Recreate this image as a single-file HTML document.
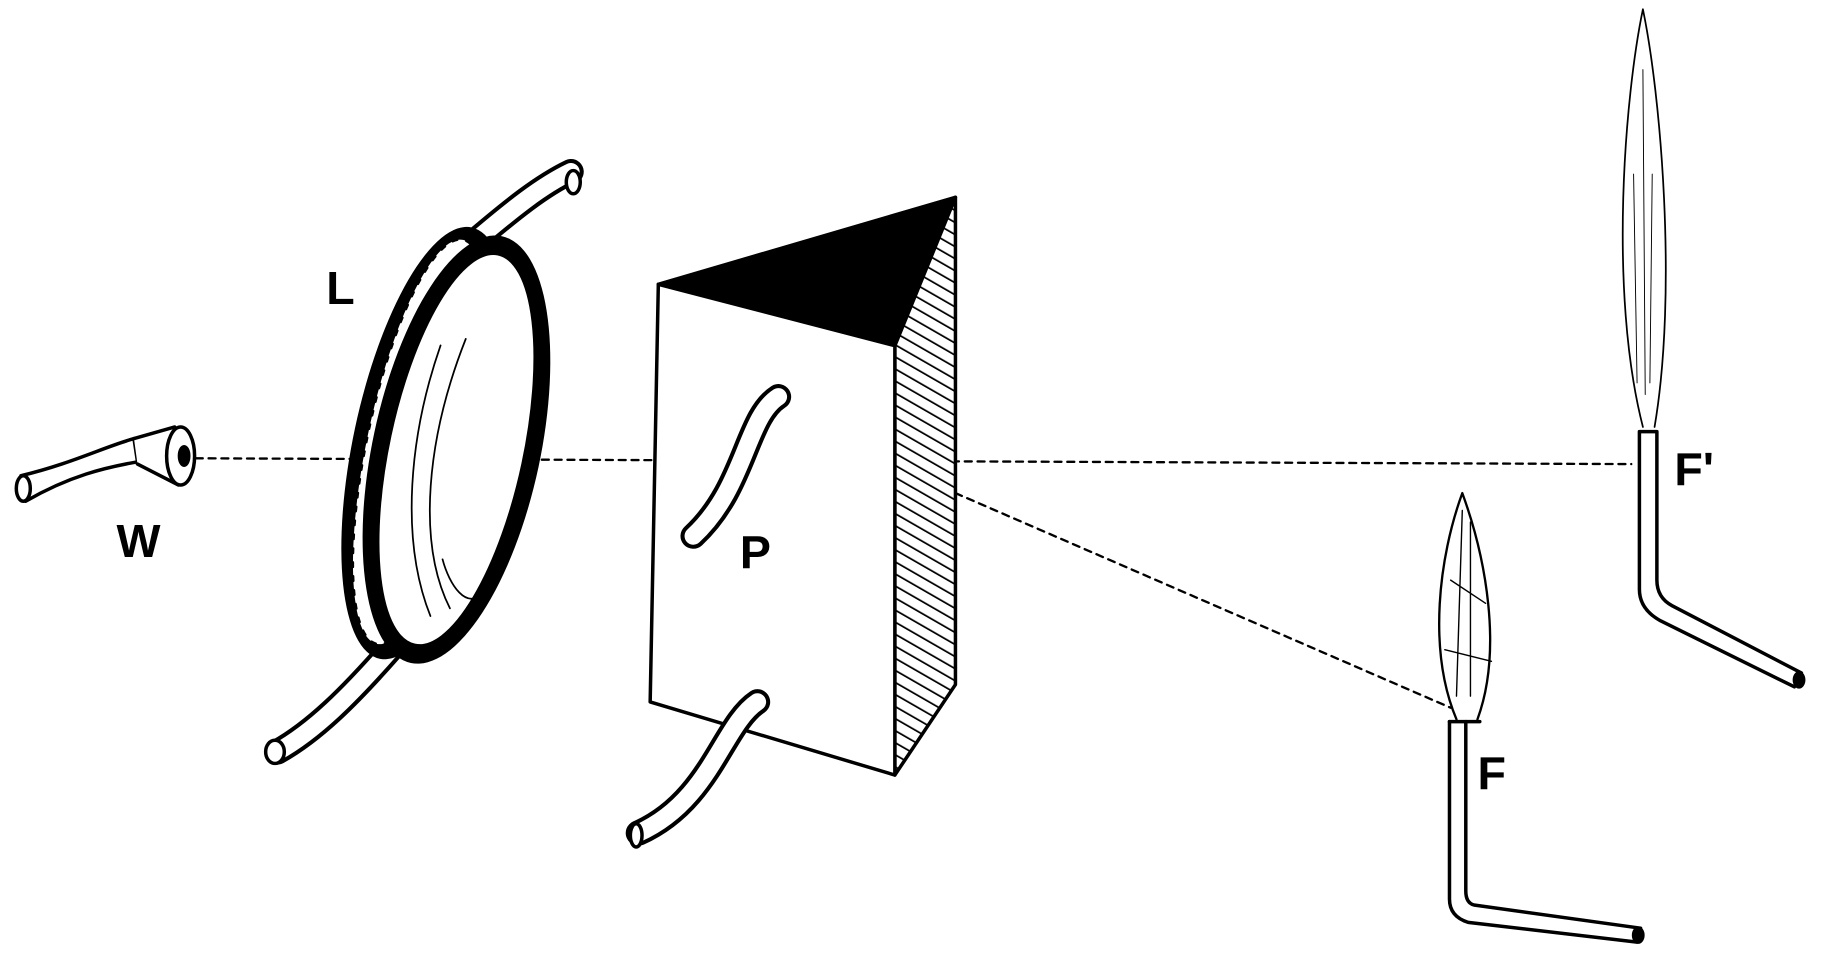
<!DOCTYPE html>
<html><head><meta charset="utf-8"><style>
html,body{margin:0;padding:0;background:#fff;}
svg{display:block}
text{font-family:"Liberation Sans",sans-serif;font-weight:bold;fill:#000}
</style></head><body>
<svg width="1827" height="963" viewBox="0 0 1568 830" preserveAspectRatio="none">
<defs>
<pattern id="hatch" patternUnits="userSpaceOnUse" width="9" height="9" patternTransform="rotate(-60)">
<rect width="9" height="9" fill="#fff"/><line x1="0" y1="0" x2="0" y2="9" stroke="#000" stroke-width="3"/></pattern>
</defs>
<g fill="none" stroke="#000" stroke-linecap="round" stroke-linejoin="round">
<!-- dashed rays -->
<line x1="168" y1="395" x2="1400" y2="400" stroke-width="2" stroke-dasharray="6 5"/>
<line x1="820" y1="425" x2="1245" y2="610" stroke-width="2" stroke-dasharray="6 5"/>
<!-- W pipe -->
<path d="M18,410 C60,400 90,385 115,378 L118,398 C90,403 60,410 22,432 Z" fill="#fff" stroke-width="3"/>
<ellipse cx="20" cy="421" rx="6" ry="11" fill="#fff" stroke-width="3"/>
<path d="M115,378 L150,368 L153,418 L118,400" fill="#fff" stroke-width="3"/>
<ellipse cx="155" cy="393" rx="12" ry="25" fill="#fff" stroke-width="3"/>
<ellipse cx="158" cy="393" rx="5" ry="9" fill="#000"/>
<!-- lens tubes -->
<path d="M405,210 C440,180 465,160 490,148" stroke="#000" stroke-width="22"/>
<path d="M405,210 C440,180 465,160 490,148" stroke="#fff" stroke-width="15"/>
<ellipse cx="492" cy="157" rx="6" ry="10" fill="#fff" stroke-width="3"/>
<path d="M335,560 C300,600 270,630 238,648" stroke="#000" stroke-width="22"/>
<path d="M335,560 C300,600 270,630 238,648" stroke="#fff" stroke-width="15"/>
<ellipse cx="236" cy="648" rx="8" ry="10" fill="#fff" stroke-width="3"/>
<!-- lens -->
<g transform="rotate(12 380 385)">
<ellipse cx="365" cy="385" rx="62" ry="190" fill="#000" stroke="none"/>
<ellipse cx="360" cy="385" rx="45" ry="178" fill="#fff" stroke-width="2" stroke-dasharray="4 8"/>
<ellipse cx="392" cy="385" rx="72" ry="188" fill="#000" stroke="none"/>
<ellipse cx="392" cy="385" rx="58" ry="172" fill="#fff" stroke-width="2"/>
<path d="M360,300 C350,380 360,470 400,530 M380,290 C365,380 375,470 415,520 M400,480 C410,500 430,520 440,500" stroke-width="1.5"/>
</g>
<!-- prism -->
<polygon points="565,245 820,170 768,298" fill="#000" stroke-width="3"/>
<polygon points="768,298 820,170 820,590 768,668" fill="url(#hatch)" stroke-width="3"/>
<polygon points="565,245 768,298 768,668 558,605" fill="#fff" stroke-width="3"/>
<!-- prism tubes -->
<path d="M668,342 C640,360 640,420 595,462" stroke="#000" stroke-width="22"/>
<path d="M668,342 C640,360 640,420 595,462" stroke="#fff" stroke-width="15"/>
<path d="M650,605 C620,625 610,690 548,718" stroke="#000" stroke-width="22"/>
<path d="M650,605 C620,625 610,690 548,718" stroke="#fff" stroke-width="15"/>
<ellipse cx="546" cy="720" rx="5" ry="10" fill="#fff" stroke-width="3"/>
<!-- burner F -->
<path d="M1244,622 L1244,775 Q1244,790 1260,795 L1405,812 L1408,800 L1265,780 Q1258,778 1258,768 L1258,622" fill="#fff" stroke-width="3"/>
<ellipse cx="1406" cy="806" rx="5" ry="7" fill="#000"/>
<line x1="1244" y1="622" x2="1270" y2="622" stroke-width="3"/>
<path d="M1250,620 C1225,560 1235,480 1255,425 C1275,480 1290,560 1268,620" fill="#fff" stroke-width="2"/>
<path d="M1255,440 L1250,600 M1262,450 L1262,600 M1245,500 L1275,520 M1240,560 L1280,570" stroke-width="1.2"/>
<!-- burner F' -->
<path d="M1407,372 L1407,508 Q1407,525 1425,535 L1540,592 L1546,580 L1435,522 Q1422,515 1422,500 L1422,372 Z" fill="#fff" stroke-width="3"/>
<ellipse cx="1544" cy="586" rx="5" ry="7" fill="#000"/>
<path d="M1410,368 C1380,250 1395,80 1410,8 C1425,80 1440,250 1420,368" fill="#fff" stroke-width="1.5"/>
<path d="M1410,60 L1412,340 M1402,150 L1405,330 M1418,150 L1416,330" stroke-width="0.8"/>
</g>
<text x="280" y="262" font-size="40">L</text>
<text x="100" y="480" font-size="40">W</text>
<text x="635" y="490" font-size="40">P</text>
<text x="1268" y="680" font-size="40">F</text>
<text x="1437" y="418" font-size="40">F'</text>
</svg>
</body></html>
